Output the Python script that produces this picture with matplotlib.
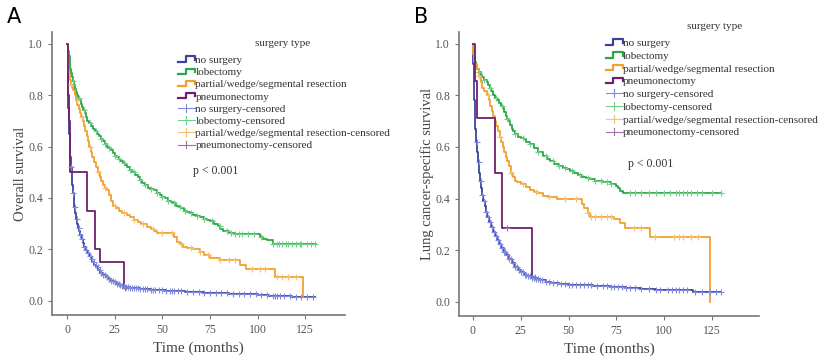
import matplotlib
matplotlib.use("Agg")
import numpy as np
import matplotlib.pyplot as plt
from matplotlib.lines import Line2D
from matplotlib.legend_handler import HandlerBase

# ============================================================
# DANE
# ============================================================

GROUPS = ["no surgery", "lobectomy", "partial/wedge/segmental resection", "pneumonectomy"]
COLORS = ["#3a449e", "#2aa847", "#f0a030", "#6e2070"]
CENS_COLORS = ["#7f8ae0", "#6fd08a", "#f6c070", "#a070a8"]

# --- Panel A: Overall survival ---
A_none_t = [0, 0.2, 0.4, 0.6, 0.8, 1.0, 1.3, 1.6, 2.0, 2.3, 2.6, 3.0, 3.4, 3.8, 4.3, 4.8, 5.3,
            5.8, 6.4, 7.0, 7.6, 8.3, 9.0, 9.8, 10.6, 11.4, 12.3, 13.2, 14.2, 15.2, 16.3, 17.5,
            18.8, 20.2, 21.6, 23, 24.5, 26, 27.5, 29, 31, 33, 35, 38, 41, 44, 48, 52, 57, 62,
            67, 72, 78, 85, 92, 100, 106, 112, 118, 122]
A_none_s = [1.0, 0.9, 0.82, 0.75, 0.70, 0.65, 0.60, 0.56, 0.52, 0.48, 0.45, 0.42, 0.39, 0.365,
            0.34, 0.32, 0.30, 0.285, 0.27, 0.255, 0.24, 0.225, 0.21, 0.197, 0.185, 0.173, 0.162,
            0.151, 0.14, 0.13, 0.12, 0.11, 0.10, 0.092, 0.085, 0.078, 0.072, 0.067, 0.062,
            0.058, 0.054, 0.051, 0.049, 0.047, 0.045, 0.043, 0.041, 0.039, 0.037, 0.035, 0.033,
            0.031, 0.029, 0.027, 0.025, 0.022, 0.02, 0.018, 0.016, 0.015]
A_lob_t = [0, 0.3, 0.6, 1.0, 1.3, 1.6, 2.0, 2.5, 3.0, 3.5, 4.0, 4.5, 5.0, 5.7, 6.4, 7.1, 7.8,
           8.5, 9.2, 9.9, 10.6, 11.6, 12.6, 13.6, 14.6, 15.6, 16.6, 17.6, 18.6, 19.8, 21, 22,
           23, 24, 25, 26, 27, 28, 29.5, 30.5, 31.5, 33, 34, 35.5, 37, 38, 39.5, 41, 42.5, 44,
           45.5, 47, 48.5, 50, 51.5, 53, 54.5, 55.6, 57, 58.5, 60, 61.5, 63, 64.5, 66, 68, 70,
           72, 73.5, 75, 77, 79, 80.5, 82, 85, 88, 101, 103, 105, 108]
A_lob_s = [1.0, 0.985, 0.97, 0.95, 0.93, 0.9, 0.885, 0.87, 0.855, 0.84, 0.825, 0.81, 0.8, 0.79,
           0.78, 0.765, 0.755, 0.74, 0.73, 0.715, 0.70, 0.69, 0.68, 0.67, 0.66, 0.65, 0.64,
           0.63, 0.62, 0.61, 0.60, 0.595, 0.585, 0.575, 0.565, 0.56, 0.55, 0.545, 0.535, 0.53,
           0.52, 0.51, 0.5, 0.49, 0.48, 0.47, 0.46, 0.45, 0.44, 0.435, 0.43, 0.42, 0.41, 0.405,
           0.4, 0.39, 0.385, 0.38, 0.37, 0.365, 0.36, 0.35, 0.345, 0.34, 0.335, 0.33, 0.325,
           0.32, 0.315, 0.31, 0.3, 0.29, 0.28, 0.27, 0.265, 0.26, 0.25, 0.24, 0.235, 0.22]
A_par_t = [0, 0.3, 0.5, 1, 1.5, 2, 3, 4, 4.7, 5.4, 6.1, 6.8, 7.5, 8.3, 9, 9.6, 10.3, 11, 11.7,
           12.4, 13.1, 14, 15, 16, 17, 18, 19, 20, 21, 22, 23, 24, 25.5, 27, 29, 31.4, 33, 35,
           37, 39, 42, 44, 45.5, 47, 56, 57.6, 59, 61, 63, 66, 70, 72, 75, 80, 91, 94, 109, 124]
A_par_s = [1.0, 0.95, 0.9, 0.88, 0.86, 0.84, 0.82, 0.80, 0.78, 0.76, 0.745, 0.73, 0.715, 0.70,
           0.68, 0.66, 0.64, 0.62, 0.60, 0.58, 0.56, 0.54, 0.52, 0.50, 0.48, 0.465, 0.45, 0.44,
           0.43, 0.41, 0.39, 0.37, 0.36, 0.35, 0.34, 0.333, 0.325, 0.315, 0.305, 0.3, 0.287,
           0.28, 0.27, 0.263, 0.25, 0.23, 0.22, 0.21, 0.205, 0.2, 0.19, 0.18, 0.166, 0.158,
           0.14, 0.124, 0.093, 0.015]
A_pn_t = [0, 0.3, 0.7, 1.0, 1.6, 10.5, 14.7, 17.3, 30.0]
A_pn_s = [1.0, 0.9, 0.8, 0.7, 0.5, 0.35, 0.2, 0.15, 0.05]
A_end = [130, 130.5, 124, 30.5]

A_none_c = [2, 3, 4, 5, 6, 7, 8, 9, 10, 11, 12, 13, 14, 15, 16, 17, 18, 19, 20, 21, 22, 23, 24,
            25, 26, 27, 28, 29, 30, 31, 32, 33, 34, 35, 36, 37, 38, 40, 41, 42, 44, 45, 46, 48,
            50, 52, 54, 55, 56, 58, 60, 63, 66, 69, 72, 75, 78, 81, 84, 87, 90, 93, 96, 99, 102,
            105, 108, 109, 110, 112, 114, 117, 120, 123, 126, 129]
A_lob_c = [3, 6, 9, 12, 15, 18, 20, 22, 25, 27, 30, 33, 35, 38, 41, 44, 47, 50, 53, 56, 59, 62,
           65, 68, 72, 76, 80, 84, 86, 88, 90, 92, 95, 98, 102, 108, 110, 111, 113, 115, 116,
           118, 120, 122, 123, 126, 128, 130]
A_par_c = [2, 5, 8, 12, 16, 20, 25, 30, 35, 40, 45, 50, 55, 60, 65, 70, 74, 80, 85, 88, 97, 101,
           104, 110, 113, 116, 120]
A_pn_c = [30.5]

# --- Panel B: Lung cancer-specific survival ---
B_none_t = [0, 0.2, 0.4, 0.7, 1.0, 1.3, 1.7, 2.1, 2.6, 3.1, 3.6, 4.2, 4.8, 5.4, 6.1, 6.8, 7.6,
            8.5, 9.4, 10.4, 11.4, 12.5, 13.6, 14.8, 16, 17.3, 18.7, 20.2, 21.8, 23.4, 25, 26.7,
            28.5, 30.4, 32.5, 35, 38, 41, 45, 50, 55, 63, 71.6, 80, 88, 96, 105, 115]
B_none_s = [1.0, 0.92, 0.85, 0.78, 0.72, 0.67, 0.62, 0.58, 0.54, 0.50, 0.47, 0.44, 0.415, 0.39,
            0.37, 0.35, 0.33, 0.31, 0.29, 0.27, 0.255, 0.24, 0.225, 0.21, 0.195, 0.18, 0.165,
            0.15, 0.137, 0.125, 0.115, 0.106, 0.099, 0.094, 0.088, 0.083, 0.078, 0.074, 0.07,
            0.067, 0.065, 0.062, 0.058, 0.055, 0.05, 0.047, 0.045, 0.04]
B_lob_t = [0, 0.3, 0.6, 1, 1.5, 2, 3, 4, 5, 6, 7.3, 8, 8.7, 9.5, 10.5, 11.5, 12.5, 13.5, 14.5,
           15.7, 16.5, 17.3, 18, 18.8, 19.5, 20.3, 21, 22, 23.5, 25, 26.5, 28, 30, 32, 34, 36.6,
           38.5, 40.5, 42.5, 45, 47, 49, 51, 53, 55, 57, 59, 61, 64, 68, 72, 75, 76, 77, 78.5]
B_lob_s = [1.0, 0.97, 0.95, 0.93, 0.91, 0.9, 0.89, 0.88, 0.87, 0.86, 0.85, 0.84, 0.83, 0.815,
           0.80, 0.79, 0.78, 0.77, 0.76, 0.75, 0.735, 0.72, 0.71, 0.70, 0.685, 0.67, 0.66,
           0.65, 0.64, 0.635, 0.63, 0.62, 0.61, 0.595, 0.58, 0.565, 0.555, 0.545, 0.535, 0.525,
           0.52, 0.514, 0.505, 0.5, 0.49, 0.485, 0.48, 0.475, 0.47, 0.463, 0.457, 0.45, 0.44,
           0.43, 0.42]
B_par_t = [0, 0.3, 0.6, 1, 2, 3, 4, 5, 6, 7.3, 8.2, 9, 9.8, 10.5, 11.3, 12, 13, 14, 14.8, 15.7,
           16.5, 17.3, 18, 19, 20, 21, 22, 23, 25, 28, 30, 32, 34, 36.6, 40, 44, 57, 58, 60, 61,
           74, 77, 79.5, 92.5, 124]
B_par_s = [1.0, 0.96, 0.93, 0.92, 0.9, 0.875, 0.85, 0.83, 0.815, 0.80, 0.78, 0.76, 0.74, 0.72,
           0.70, 0.68, 0.66, 0.64, 0.62, 0.60, 0.58, 0.56, 0.545, 0.525, 0.50, 0.485, 0.47,
           0.463, 0.455, 0.443, 0.435, 0.425, 0.42, 0.41, 0.405, 0.397, 0.38, 0.365, 0.345,
           0.33, 0.32, 0.307, 0.287, 0.253, 0.0]
B_pn_t = [0, 1.0, 2.0, 11.5, 15.0, 30.8]
B_pn_s = [1.0, 0.857, 0.714, 0.5, 0.286, 0.095]
B_end = [130, 130, 124, 32.6]

B_none_c = [2, 3, 4, 5, 6, 7, 8, 9, 10, 11, 12, 13, 14, 15, 16, 17, 18, 19, 20, 21, 22, 23, 24,
            25, 26, 27, 28, 29, 30, 31, 32, 33, 34, 35, 36, 38, 40, 42, 44, 46, 48, 50, 52, 54,
            56, 58, 60, 62, 65, 68, 70, 72, 74, 76, 78, 80, 82, 85, 88, 92, 96, 98, 102, 104,
            106, 108, 110, 112, 116, 120, 124, 127, 130]
B_lob_c = [3, 6, 9, 12, 15, 18, 22, 26, 30, 34, 38, 42, 45, 48, 52, 56, 60, 64, 67, 70, 72, 82,
           85, 88, 92, 96, 100, 103, 106, 108, 110, 112, 114, 117, 120, 125, 130]
B_par_c = [3, 8, 14, 20, 26, 33, 40, 48, 54, 60, 62, 64, 67, 70, 72, 84, 88, 95, 105, 108, 110,
           114, 118]
B_pn_c = [18, 32.6]

PANELS = {
    "A": dict(t=[A_none_t, A_lob_t, A_par_t, A_pn_t], s=[A_none_s, A_lob_s, A_par_s, A_pn_s],
              end=A_end, c=[A_none_c, A_lob_c, A_par_c, A_pn_c], ylabel="Overall survival"),
    "B": dict(t=[B_none_t, B_lob_t, B_par_t, B_pn_t], s=[B_none_s, B_lob_s, B_par_s, B_pn_s],
              end=B_end, c=[B_none_c, B_lob_c, B_par_c, B_pn_c], ylabel="Lung cancer-specific survival"),
}

SERIF = "Liberation Serif"
TICK_COLOR = "#555555"


class HandlerStep(HandlerBase):
    """Ikonka legendy w ksztalcie schodka."""
    def create_artists(self, legend, orig_handle, xdescent, ydescent, width, height, fontsize, trans):
        x0, x1 = -xdescent, -xdescent + width
        xs = [x0, x0 + width * 0.45, x0 + width * 0.45, x1, x1]
        ys = [height * 0.15, height * 0.15, height * 0.85, height * 0.85, height * 0.4]
        ln = Line2D(xs, ys, color=orig_handle.get_color(), lw=1.6, transform=trans)
        return [ln]


class HandlerCens(HandlerBase):
    def create_artists(self, legend, orig_handle, xdescent, ydescent, width, height, fontsize, trans):
        x0, x1 = -xdescent, -xdescent + width
        ym = height * 0.5
        h = Line2D([x0, x1], [ym, ym], color=orig_handle.get_color(), lw=0.8, transform=trans)
        v = Line2D([x0 + width * 0.5] * 2, [ym - height * 0.5, ym + height * 0.5],
                   color=orig_handle.get_color(), lw=0.8, transform=trans)
        return [h, v]


def surv_at(times, surv, t):
    idx = np.searchsorted(times, t, side="right") - 1
    return np.asarray(surv)[idx]


fig = plt.figure(figsize=(8.24, 3.6), dpi=100)
axes_pos = {"A": [0.063, 0.125, 0.356, 0.786], "B": [0.557, 0.122, 0.364, 0.789]}
legend_anchor = {"A": (0.415, 0.934), "B": (0.475, 0.994)}
legend_spacing = {"A": 0.22, "B": 0.27}
title_pos = {"A": (0.785, 0.961), "B": (0.853, 1.021)}
ptext = {"A": (0.48, 0.50), "B": (0.563, 0.525)}
xlims = {"A": (-8, 146), "B": (-7.3, 149.6)}

for key, d in PANELS.items():
    ax = fig.add_axes(axes_pos[key])
    step_handles, cens_handles = [], []
    for i in range(4):
        t = list(d["t"][i]) + [d["end"][i]]
        s = list(d["s"][i]) + [d["s"][i][-1]]
        ax.step(t, s, where="post", color=COLORS[i], lw=1.3, zorder=3 + (i == 3))
        ct = np.array(d["c"][i], dtype=float)
        ax.plot(ct, surv_at(d["t"][i], d["s"][i], ct), ls="none", marker="+",
                ms=4, mew=0.8, color=CENS_COLORS[i], zorder=5)
        step_handles.append(Line2D([], [], color=COLORS[i]))
        cens_handles.append(Line2D([], [], color=CENS_COLORS[i]))

    ax.set_xlim(*xlims[key])
    ax.set_ylim(-0.055, 1.045)
    ax.set_xticks([0, 25, 50, 75, 100, 125])
    ax.set_yticks([0.0, 0.2, 0.4, 0.6, 0.8, 1.0])
    ax.set_yticklabels(["0.0", "0.2", "0.4", "0.6", "0.8", "1.0"])
    for sp in ["top", "right"]:
        ax.spines[sp].set_visible(False)
    for sp in ["left", "bottom"]:
        ax.spines[sp].set_color("#777777")
        ax.spines[sp].set_linewidth(1.2)
    ax.tick_params(length=3, width=0.8, color="#777777", labelcolor=TICK_COLOR, labelsize=8.5)
    for lab in ax.get_xticklabels() + ax.get_yticklabels():
        lab.set_family(SERIF)
    ax.set_xlabel("Time (months)", family=SERIF, fontsize=11, color="#444444", labelpad=4)
    ax.set_ylabel(d["ylabel"], family=SERIF, fontsize=10.5, color="#444444", labelpad=1)

    labels = GROUPS + [g + "-censored" for g in GROUPS]
    hmap = {h: HandlerStep() for h in step_handles}
    hmap.update({h: HandlerCens() for h in cens_handles})
    leg = ax.legend(step_handles + cens_handles, labels, handler_map=hmap,
                    loc="upper left", bbox_to_anchor=legend_anchor[key],
                    frameon=False, prop={"family": SERIF, "size": 8},
                    handlelength=1.5, handletextpad=0.05, labelspacing=legend_spacing[key],
                    borderaxespad=0)
    for txt in leg.get_texts():
        txt.set_color("#333333")
    ax.text(title_pos[key][0], title_pos[key][1], "surgery type", transform=ax.transAxes,
            ha="center", va="center", family=SERIF, fontsize=8, color="#333333")
    ax.text(ptext[key][0], ptext[key][1], "p < 0.001", transform=ax.transAxes,
            family=SERIF, fontsize=8.5, color="#333333")

    fig.text(axes_pos[key][0] - 0.055, 0.935, key, fontsize=15, family="DejaVu Sans")

fig.savefig("out.png", dpi=100)
